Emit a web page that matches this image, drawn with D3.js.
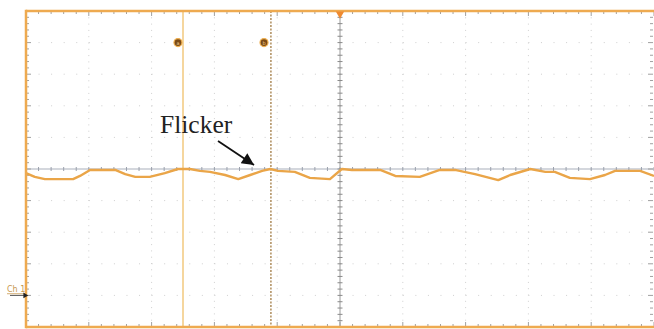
<!DOCTYPE html>
<html>
<head>
<meta charset="utf-8">
<script src="https://cdn.jsdelivr.net/npm/d3@7"></script>
<style>
body{margin:0;background:#fff;}
svg{display:block;}
</style>
</head>
<body>
<svg id="scope" width="654" height="329"></svg>
<script>
// trace, time and volts in divisions
let traceT = [0,0.14,0.30,0.75,0.86,1.02,1.18,1.42,1.58,1.74,1.97,2.21,2.42,2.61,2.77,2.93,3.17,3.38,3.57,3.76,3.89,4.01,4.28,4.52,4.84,5.03,5.19,5.64,5.88,6.27,6.59,6.83,7.15,7.52,7.71,8.03,8.27,8.42,8.66,8.98,9.22,9.38,9.78,10.0];
let traceV = [-0.13,-0.25,-0.32,-0.32,-0.22,-0.03,-0.03,-0.03,-0.16,-0.25,-0.25,-0.13,0,0,-0.06,-0.09,-0.19,-0.32,-0.19,-0.06,0,-0.06,-0.09,-0.28,-0.32,0,-0.03,-0.03,-0.22,-0.25,-0.03,-0.03,-0.16,-0.35,-0.19,0,-0.09,-0.09,-0.28,-0.32,-0.19,-0.06,-0.06,-0.22];
let divs = d3.range(0, 11);
let cursorNames = ['a','b'];
let cursorT = [2.5, 3.9];
let markerT = [2.42, 3.79];
let markerV = [4];
let chLabel = 'Ch 1';
let chLevel = -4;
let noteText = 'Flicker';

let svg = d3.select('#scope');
let x = d3.scaleLinear().domain([0,10]).range([26,654]);
let y = d3.scaleLinear().domain([-5,5]).range([327,11]);

let grid = svg.append('g');
// dotted graticule
let minor = d3.range(0, 50.01, 1).map(function(d){return d/5;});
divs.slice(1,10).forEach(function(d){
    if(d == 5) return;
    grid.append('line').attr('x1', x(d)).attr('x2', x(d)).attr('y1', y(5)).attr('y2', y(-5))
        .style('stroke', '#cfcfcf').style('stroke-width', 1).style('stroke-dasharray', '1,5.3');
    grid.append('line').attr('y1', y(d-5)).attr('y2', y(d-5)).attr('x1', x(0)).attr('x2', x(10))
        .style('stroke', '#cfcfcf').style('stroke-width', 1).style('stroke-dasharray', '1,11.56');
});

// center cross with minor ticks
grid.append('line').attr('x1', x(0)).attr('x2', x(10)).attr('y1', y(0)).attr('y2', y(0))
    .style('stroke', '#aab0bc').style('stroke-width', 1.2);
grid.append('line').attr('x1', x(5)).attr('x2', x(5)).attr('y1', y(5)).attr('y2', y(-5))
    .style('stroke', '#9a9a9a').style('stroke-width', 1);
grid.selectAll('.htick').data(minor).enter().append('line')
    .attr('x1', function(d){return x(d);}).attr('x2', function(d){return x(d);})
    .attr('y1', y(0)-2).attr('y2', y(0)+2).style('stroke', '#9aa0ac');
grid.selectAll('.vtick').data(minor).enter().append('line')
    .attr('y1', function(d){return y(d-5);}).attr('y2', function(d){return y(d-5);})
    .attr('x1', x(5)-2.5).attr('x2', x(5)+2.5).style('stroke', '#8a8a8a');

// border ticks
let ticks = svg.append('g').style('stroke', '#a0a0a0');
minor.forEach(function(d){
    let len = (Math.abs(d - Math.round(d)) < 0.01) ? 5 : 3;
    ticks.append('line').attr('x1', x(d)).attr('x2', x(d)).attr('y1', y(5)).attr('y2', y(5)+len);
    ticks.append('line').attr('x1', x(d)).attr('x2', x(d)).attr('y1', y(-5)).attr('y2', y(-5)-len);
    ticks.append('line').attr('y1', y(d-5)).attr('y2', y(d-5)).attr('x1', x(0)).attr('x2', x(0)+len);
    ticks.append('line').attr('y1', y(d-5)).attr('y2', y(d-5)).attr('x1', x(10)-1).attr('x2', x(10)-1-len);
});

// cursors
svg.append('line').attr('x1', x(cursorT[0])).attr('x2', x(cursorT[0])).attr('y1', y(5)).attr('y2', y(-5))
    .style('stroke', '#f0c06a').style('stroke-width', 1.3);
svg.append('line').attr('x1', x(cursorT[1])).attr('x2', x(cursorT[1])).attr('y1', y(5)).attr('y2', y(-5))
    .style('stroke', '#a88450').style('stroke-width', 1.4).style('stroke-dasharray', '2,1.5');

// trace
let line = d3.line().x(function(d){return x(d[0]);}).y(function(d){return y(d[1]);});
svg.append('path').datum(d3.zip(traceT, traceV)).attr('d', line)
    .style('fill', 'none').style('stroke', '#eaa548').style('stroke-width', 2.4).style('stroke-linejoin', 'round');

// frame: top, left, bottom (right edge is cut off)
let frame = svg.append('g').style('stroke', '#eeaa50').style('stroke-width', 2.5);
frame.append('line').attr('x1', x(0)).attr('x2', x(10)).attr('y1', y(5)).attr('y2', y(5));
frame.append('line').attr('x1', x(0)).attr('x2', x(10)).attr('y1', y(-5)).attr('y2', y(-5));
frame.append('line').attr('x1', x(0)).attr('x2', x(0)).attr('y1', y(5)-1.25).attr('y2', y(-5)+1.25);

// trigger marker
svg.append('path').attr('d', d3.symbol().type(d3.symbolTriangle).size(30))
    .attr('transform', 'translate(' + x(5) + ',' + (y(5)+3) + ') rotate(180)')
    .style('fill', '#ef8a30');

// cursor markers
markerT.forEach(function(t, i){
    svg.append('circle').attr('cx', x(t)).attr('cy', y(markerV[0])).attr('r', 4)
        .style('fill', '#7a4a16').style('stroke', '#f0b050').style('stroke-width', 1.2);
    svg.append('text').attr('x', x(t)).attr('y', y(markerV[0])+2).attr('text-anchor', 'middle')
        .style('font-family', 'DejaVu Sans').style('font-size', '5px').style('fill', '#f6d090').text(cursorNames[i]);
});

// channel marker
svg.append('text').attr('x', 7).attr('y', y(chLevel)-3).text(chLabel)
    .style('font-family', 'DejaVu Sans').style('font-size', '8px').style('fill', '#c89850')
    .style('text-decoration', 'underline');
svg.append('line').attr('x1', 10).attr('x2', x(0)-2).attr('y1', y(chLevel)).attr('y2', y(chLevel))
    .style('stroke', '#555').style('stroke-width', 1);
svg.append('path').attr('d', d3.symbol().type(d3.symbolTriangle).size(14))
    .attr('transform', 'translate(' + (x(0)-1) + ',' + y(chLevel) + ') rotate(90)').style('fill', '#222');

// annotation
svg.append('text').attr('x', 160).attr('y', 133).text(noteText)
    .style('font-family', '"Liberation Serif", serif').style('font-size', '25.5px').style('fill', '#222');
svg.append('defs').append('marker').attr('id', 'head').attr('viewBox', '0 0 10 10')
    .attr('refX', 10).attr('refY', 5).attr('markerWidth', 14).attr('markerHeight', 12)
    .attr('markerUnits', 'userSpaceOnUse').attr('orient', 'auto')
    .append('path').attr('d', 'M0,0 L10,5 L0,10 z').style('fill', '#111');
svg.append('line').attr('x1', 218).attr('y1', 141).attr('x2', 254).attr('y2', 165)
    .style('stroke', '#111').style('stroke-width', 1.8).attr('marker-end', 'url(#head)');
</script>
</body>
</html>
